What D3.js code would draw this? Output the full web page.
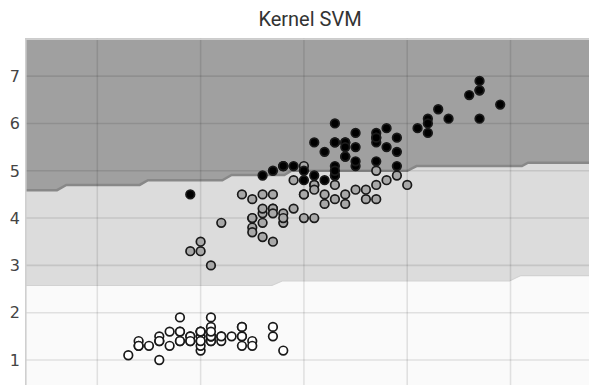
<!DOCTYPE html>
<html>
<head>
<meta charset="utf-8">
<script src="https://cdn.jsdelivr.net/npm/d3@7"></script>
<style>
  body { margin: 0; background: #fff; }
  svg { display: block; overflow: hidden; }
</style>
</head>
<body>
<figure id="chart" style="margin:0"></figure>
<script>
// iris: sepal length (x) vs petal length (y)
const setosa = [
  [5.1,1.4],[4.9,1.4],[4.7,1.3],[4.6,1.5],[5.0,1.4],[5.4,1.7],[4.6,1.4],[5.0,1.5],[4.4,1.4],[4.9,1.5],
  [5.4,1.5],[4.8,1.6],[4.8,1.4],[4.3,1.1],[5.8,1.2],[5.7,1.5],[5.4,1.3],[5.1,1.4],[5.7,1.7],[5.1,1.5],
  [5.4,1.7],[5.1,1.5],[4.6,1.0],[5.1,1.7],[4.8,1.9],[5.0,1.6],[5.0,1.6],[5.2,1.5],[5.2,1.4],[4.7,1.6],
  [4.8,1.6],[5.4,1.5],[5.2,1.5],[5.5,1.4],[4.9,1.5],[5.0,1.2],[5.5,1.3],[4.9,1.4],[4.4,1.3],[5.1,1.5],
  [5.0,1.3],[4.5,1.3],[4.4,1.3],[5.0,1.6],[5.1,1.9],[4.8,1.4],[5.1,1.6],[4.6,1.4],[5.3,1.5],[5.0,1.4]
];
const versicolor = [
  [7.0,4.7],[6.4,4.5],[6.9,4.9],[5.5,4.0],[6.5,4.6],[5.7,4.5],[6.3,4.7],[4.9,3.3],[6.6,4.6],[5.2,3.9],
  [5.0,3.5],[5.9,4.2],[6.0,4.0],[6.1,4.7],[5.6,3.6],[6.7,4.4],[5.6,4.5],[5.8,4.1],[6.2,4.5],[5.6,3.9],
  [5.9,4.8],[6.1,4.0],[6.3,4.9],[6.1,4.7],[6.4,4.3],[6.6,4.4],[6.8,4.8],[6.7,5.0],[6.0,4.5],[5.7,3.5],
  [5.5,3.8],[5.5,3.7],[5.8,3.9],[6.0,5.1],[5.4,4.5],[6.0,4.5],[6.7,4.7],[6.3,4.4],[5.6,4.1],[5.5,4.0],
  [5.5,4.4],[6.1,4.6],[5.8,4.0],[5.0,3.3],[5.6,4.2],[5.7,4.2],[5.7,4.2],[6.2,4.3],[5.1,3.0],[5.7,4.1]
];
const virginica = [
  [6.3,6.0],[5.8,5.1],[7.1,5.9],[6.3,5.6],[6.5,5.8],[7.6,6.6],[4.9,4.5],[7.3,6.3],[6.7,5.8],[7.2,6.1],
  [6.5,5.1],[6.4,5.3],[6.8,5.5],[5.7,5.0],[5.8,5.1],[6.4,5.3],[6.5,5.5],[7.7,6.7],[7.7,6.9],[6.0,5.0],
  [6.9,5.7],[5.6,4.9],[7.7,6.7],[6.3,4.9],[6.7,5.7],[7.2,6.0],[6.2,4.8],[6.1,4.9],[6.4,5.6],[7.2,5.8],
  [7.4,6.1],[7.9,6.4],[6.4,5.6],[6.3,5.1],[6.1,5.6],[7.7,6.1],[6.3,5.6],[6.4,5.5],[6.0,4.8],[6.9,5.4],
  [6.7,5.6],[6.9,5.1],[5.8,5.1],[6.8,5.9],[6.7,5.7],[6.7,5.2],[6.3,5.0],[6.5,5.2],[6.2,5.4],[5.9,5.1]
];

// decision boundaries (step-like contour edges)
const boundaryUpper = [
  [3.3,4.59],[3.61,4.59],[3.70,4.70],[4.41,4.70],[4.49,4.80],[5.21,4.80],[5.30,4.91],
  [5.81,4.91],[5.88,5.00],[7.00,5.00],[7.09,5.10],[8.11,5.10],[8.17,5.17],[8.9,5.17]
];
const boundaryLower = [
  [3.3,2.575],[5.69,2.575],[5.79,2.67],[7.99,2.67],[8.10,2.785],[8.9,2.785]
];

const xTicks = [4, 5, 6, 7, 8];
const yTicks = [1, 2, 3, 4, 5, 6, 7];
const xDomain = [3.3, 8.9];
const yDomain = [0, 7.8];

const width = 589, height = 385;
const marginLeft = 25, marginTop = 38.3;
const plotW = 578.5, plotH = 369;

const svg = d3.select("figure#chart")
  .append("svg")
  .attr("width", width)
  .attr("height", height);

const x = d3.scaleLinear().domain(xDomain).range([marginLeft, marginLeft + plotW]);
const y = d3.scaleLinear().domain(yDomain).range([marginTop + plotH, marginTop]);

svg.append("defs").append("clipPath").attr("id", "plot")
  .append("rect")
  .attr("x", marginLeft).attr("y", marginTop)
  .attr("width", plotW).attr("height", plotH);

const g = svg.append("g").attr("clip-path", "url(#plot)");

// regions
g.append("rect")
  .attr("x", marginLeft).attr("y", marginTop)
  .attr("width", plotW).attr("height", plotH)
  .attr("fill", "#fafafa");

g.append("path")
  .datum(boundaryUpper)
  .attr("fill", "#a0a0a0")
  .attr("d", d3.area().x(d => x(d[0])).y0(y(yDomain[1])).y1(d => y(d[1])));

// band between the two edges
const bandPts = boundaryUpper.map(d => [x(d[0]), y(d[1])])
  .concat(boundaryLower.slice().reverse().map(d => [x(d[0]), y(d[1])]));
g.append("path")
  .attr("fill", "#dcdcdc")
  .attr("d", d3.line()(bandPts) + "Z");

g.append("path")
  .datum(boundaryUpper)
  .attr("fill", "none")
  .attr("stroke", "#888")
  .attr("stroke-width", 2.5)
  .attr("d", d3.line().x(d => x(d[0])).y(d => y(d[1])));

g.append("path")
  .datum(boundaryLower)
  .attr("fill", "none")
  .attr("stroke", "#d2d2d2")
  .attr("stroke-width", 1.2)
  .attr("d", d3.line().x(d => x(d[0])).y(d => y(d[1])));

// grid
g.selectAll(".gx")
  .data(xTicks)
  .enter()
  .append("line")
  .attr("x1", d => x(d)).attr("x2", d => x(d))
  .attr("y1", marginTop).attr("y2", marginTop + plotH)
  .attr("stroke", "#000").attr("stroke-opacity", 0.1)
  .attr("stroke-width", 1.6);

g.selectAll(".gy")
  .data(yTicks)
  .enter()
  .append("line")
  .attr("x1", marginLeft).attr("x2", marginLeft + plotW)
  .attr("y1", d => y(d)).attr("y2", d => y(d))
  .attr("stroke", "#000").attr("stroke-opacity", 0.1)
  .attr("stroke-width", 1.6);

// frame edges
g.append("path")
  .attr("d", `M${marginLeft + 0.8},${marginTop + plotH}V${marginTop + 0.8}H${marginLeft + plotW}`)
  .attr("fill", "none")
  .attr("stroke", "#cfcfcf")
  .attr("stroke-width", 1.6);

// points
const groups = [
  { data: setosa, fill: "#ffffff" },
  { data: versicolor, fill: "#a8a8a8" },
  { data: virginica, fill: "#000000" }
];
groups.forEach(grp => {
  g.selectAll(null)
    .data(grp.data)
    .enter()
    .append("circle")
    .attr("cx", d => x(d[0]))
    .attr("cy", d => y(d[1]))
    .attr("r", 4.3)
    .attr("fill", grp.fill)
    .attr("stroke", "#1a1a1a")
    .attr("stroke-width", 1.7);
});

// y axis labels
svg.selectAll(".ytick")
  .data(yTicks)
  .enter()
  .append("text")
  .attr("x", 20)
  .attr("y", d => y(d))
  .attr("dy", "0.36em")
  .attr("text-anchor", "end")
  .attr("font-family", "DejaVu Sans")
  .attr("font-size", 16)
  .attr("fill", "#444")
  .text(d => d);

// title
svg.append("text")
  .attr("x", 310)
  .attr("y", 26)
  .attr("text-anchor", "middle")
  .attr("font-family", "Roboto, DejaVu Sans")
  .attr("font-size", 20)
  .attr("fill", "#333")
  .text("Kernel SVM");
</script>
</body>
</html>
